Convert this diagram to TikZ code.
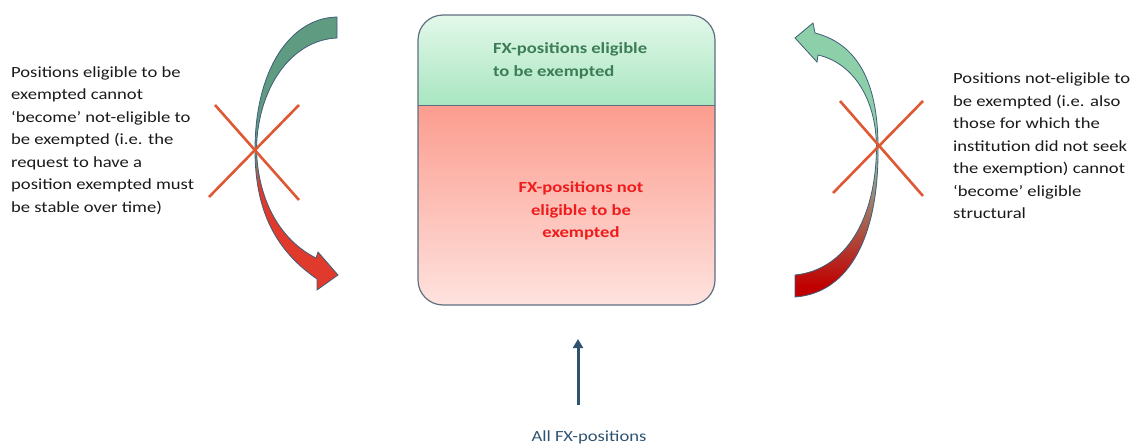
\documentclass[tikz,border=0pt]{standalone}
\usepackage{fontspec}
\setmainfont{Carlito}[FakeStretch=1.2]
\usetikzlibrary{arrows.meta}
\definecolor{gtop}{HTML}{E3F8EA}
\definecolor{gbot}{HTML}{A8E6C0}
\definecolor{rtop}{HTML}{FC9D8F}
\definecolor{rbot}{HTML}{FEE2DE}
\definecolor{boxborder}{HTML}{5F6F7F}
\definecolor{greentext}{HTML}{3C7D55}
\definecolor{redtext}{HTML}{EE1C1C}
\definecolor{lgreen}{HTML}{5F9B80}
\definecolor{lred}{HTML}{E03A2D}
\definecolor{rgreen}{HTML}{8CCFA8}
\definecolor{rred}{HTML}{C00000}
\definecolor{arrowedge}{HTML}{405D7A}
\definecolor{crosscol}{HTML}{DE5834}
\definecolor{fxblue}{HTML}{2E5370}
\definecolor{bodytext}{HTML}{1A1A1A}
\pgfdeclareverticalshading{leftshade}{100bp}{color(0bp)=(lred); color(44bp)=(lred); color(50bp)=(lgreen); color(100bp)=(lgreen)}
\pgfdeclareverticalshading{rightshade}{100bp}{color(0bp)=(rred); color(27bp)=(rred); color(52bp)=(rgreen); color(100bp)=(rgreen)}
\begin{document}
\begin{tikzpicture}[x=1pt,y=-1pt,
  txt/.style={inner sep=0pt, font=\fontsize{15.5}{22.5}\selectfont},
  sidetext/.style={txt, anchor=north west, align=left, text=bodytext},
  boxframe/.style={draw=boxborder, line width=1.2pt, rounded corners=25pt, inner sep=0pt},
  curvedarrow/.style={draw=arrowedge, line width=0.8pt},
  crossline/.style={draw=crosscol, line width=2.6pt},
  fxarrow/.style={draw=fxblue, line width=3pt, -{Triangle[width=10pt,length=9pt]}}]
\useasboundingbox (0,0) rectangle (1137,447);

% box fills
\path[top color=gtop, bottom color=gbot] (418,105.5) [rounded corners=25pt] -- (418,15) -- (715,15) [sharp corners] -- (715,105.5) -- cycle;
\path[top color=rtop, bottom color=rbot] (418,105.5) [rounded corners=25pt] -- (418,305) -- (715,305) [sharp corners] -- (715,105.5) -- cycle;
\node[boxframe, minimum width=297pt, minimum height=290pt] (box) at (566.5,160) {};
\coordinate (divL) at (418,105.5);
\coordinate (divR) at (715,105.5);
\draw[draw=boxborder, line width=1.2pt] (divL) -- (divR);

% box texts
\node[txt, anchor=north west, align=left, text=greentext, font=\fontsize{15.5}{22.5}\selectfont\bfseries] (eligible) at (493,42.5) {FX-positions eligible\\to be exempted};
\node[txt, anchor=north, align=center, text=redtext, font=\fontsize{15.5}{22.5}\selectfont\bfseries] (noteligible) at (581,181.5) {FX-positions not\\eligible to be\\exempted};

% side texts
\node[sidetext] (lefttext) at (11,66.5) {Positions eligible to be\\exempted cannot\\‘become’ not-eligible to\\be exempted (i.e. the\\request to have a\\position exempted must\\be stable over time)};
\node[sidetext] (righttext) at (953,73) {Positions not-eligible to\\be exempted (i.e. also\\those for which the\\institution did not seek\\the exemption) cannot\\‘become’ eligible\\structural};

% left curved arrow
\path[curvedarrow, shading=leftshade] (337,17) .. controls (290,18) and (255,70) .. (255,150) .. controls (255,210) and (275,250) .. (317,279) -- (317,290) -- (338,275) -- (318,252) -- (316,258) .. controls (280,240) and (258,200) .. (256.5,150) .. controls (257,90) and (290,40) .. (337,38) -- cycle;

% right curved arrow
\path[curvedarrow, shading=rightshade] (795,38) -- (813,23) -- (815,33) .. controls (862,45) and (878,90) .. (878,147) .. controls (879,235) and (850,293) .. (795,297) -- (795,275) .. controls (845,270) and (876,220) .. (876.5,147) .. controls (876,95) and (850,62) .. (818,55) -- (817,62) -- cycle;

% crosses
\draw[crossline] (215,105) -- (299,200);
\draw[crossline] (299,105) -- (209,197);
\draw[crossline] (840,101) -- (923,196);
\draw[crossline] (923,101) -- (833,193);

% bottom arrow and label
\node[txt, text=fxblue] (allfx) at (589,437) {All FX-positions};
\coordinate (upstart) at (578,405);
\coordinate (upend) at (578,339);
\draw[fxarrow] (upstart) -- (upend);
\end{tikzpicture}
\end{document}
